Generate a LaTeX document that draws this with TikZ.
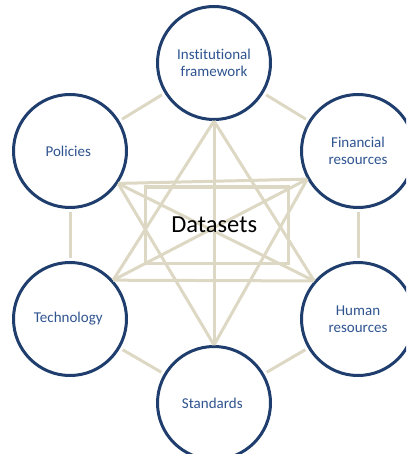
\documentclass[tikz,border=0pt]{standalone}
\usepackage{fontspec}
\setmainfont{Carlito}[Ligatures=NoCommon]
\usetikzlibrary{positioning}
\definecolor{ringblue}{HTML}{1F3E6E}
\definecolor{labelblue}{HTML}{2F5490}
\definecolor{linktan}{HTML}{DDD8C3}

\begin{document}
\begin{tikzpicture}[x=1pt,y=-1pt,every text node part/.style={align=center},
  ring/.style={circle,draw=ringblue,line width=3pt,fill=white,minimum size=113pt,inner sep=0pt,text=labelblue,font=\fontsize{15}{17}\selectfont},
  link/.style={draw=linktan,line width=3pt},
  outerlink/.style={link,shorten <=3pt,shorten >=3pt}]
\useasboundingbox (0,0) rectangle (406,454);
\clip (0,0) rectangle (406,454);
\node[ring] (inst) at (214,63) { Institutional \\ framework };
\node[ring] (pol) at (70,151) { Policies };
\node[ring] (fin) at (358,151) { Financial \\ resources };
\node[ring] (tech) at (70,319) { Technology };
\node[ring] (hum) at (358,319) { Human \\ resources };
\node[ring] (std) at (214,403) { Standards };
\draw[outerlink] (inst) -- (pol);
\draw[outerlink] (inst) -- (fin);
\draw[outerlink] (pol) -- (tech);
\draw[outerlink] (fin) -- (hum);
\draw[outerlink] (tech) -- (std);
\draw[outerlink] (hum) -- (std);
\draw[link] (inst.south) -- (tech.42);
\draw[link] (inst.south) -- (hum.139);
\draw[link] (inst.south) -- (std.north);
\draw[link] (std.north) -- (pol.-34);
\draw[link] (std.north) -- (fin.-151);
\draw[link] (pol.-34) -- (fin.-151);
\draw[link] (pol.-34) -- (hum.139);
\draw[link] (tech.42) -- (fin.-151);
\draw[link] (tech.42) -- (hum.139);
\node[draw=linktan,line width=3pt,minimum width=143pt,minimum height=76pt,font=\fontsize{24.5}{28}\selectfont] (data) at (217,225) { Datasets };
\end{tikzpicture}
\end{document}
